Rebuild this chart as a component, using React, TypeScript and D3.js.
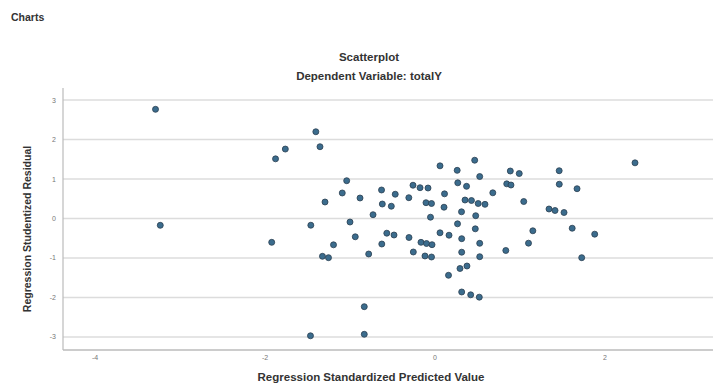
import React from "react";
import * as d3 from "d3";

const W = 713;
const H = 383;

const chartTitle = "Scatterplot";
const chartSubtitle = "Dependent Variable: totalY";
const xLabel = "Regression Standardized Predicted Value";
const yLabel = "Regression Studentized Residual";
const headerText = "Charts";

const xTicks = [-4, -2, 0, 2];
const yTicks = [-3, -2, -1, 0, 1, 2, 3];

// predicted (x) and studentized residual (y)
const predicted = [
  -3.288, -3.232, -1.402, -1.353, -1.761, -1.876, -1.039, -1.091, -1.294, -1.461,
  -1.921, -1.194, -1.324, -1.253, -1.465, -1.0, -0.882, -0.629, -0.62, -0.514,
  -0.468, -0.729, -0.938, -0.78, -0.626, -0.567, -0.482, -0.308, -0.306, -0.259,
  -0.255, -0.176, -0.082, -0.165, -0.1, -0.035, -0.118, -0.041, -0.106, -0.041,
  -0.053, 0.059, 0.112, 0.106, 0.059, 0.165, 0.159, 0.261, 0.268, 0.371,
  0.353, 0.429, 0.312, 0.265, 0.314, 0.314, 0.294, 0.376, 0.314, 0.42,
  0.521, 0.467, 0.526, 0.508, 0.588, 0.479, 0.474, 0.526, 0.526, 0.68,
  0.844, 0.894, 0.886, 0.991, 1.044, 0.833, 1.151, 1.1, 1.461, 1.462,
  1.671, 1.341, 1.412, 1.518, 1.614, 1.879, 1.726, 2.353, -0.832, -0.832,
];
const residual = [
  2.765, -0.172, 2.197, 1.818, 1.759, 1.511, 0.957, 0.646, 0.418, -0.17,
  -0.603, -0.666, -0.957, -0.992, -2.97, -0.089, 0.519, 0.722, 0.367, 0.311,
  0.615, 0.096, -0.463, -0.899, -0.646, -0.372, -0.418, 0.527, -0.481, 0.843,
  -0.848, 0.78, 0.772, -0.603, -0.633, -0.663, -0.949, -0.975, 0.4, 0.38,
  0.033, 1.334, 0.625, 0.286, -0.362, -0.423, -1.438, 1.22, 0.904, 0.815,
  0.468, 0.456, 0.17, -0.134, -0.511, -0.853, -1.266, -1.203, -1.861, -1.932,
  -1.992, 1.476, 1.063, 0.38, 0.359, 0.071, -0.261, -0.628, -0.967, 0.651,
  0.878, 0.848, 1.203, 1.139, 0.43, -0.81, -0.311, -0.625, 1.21, 0.868,
  0.754, 0.241, 0.203, 0.152, -0.246, -0.397, -0.992, 1.41, -2.233, -2.932,
];

const plotLeft = 63;
const plotBottom = 350;
const plotTop = 88;

export default function App() {
  const x = d3.scaleLinear().domain([-4.4, 3.4]).range([61, 724]);
  const y = d3.scaleLinear().domain([-3.33, 3.3]).range([plotBottom, 88.2]);
  const points = predicted.map((p, i) => ({ px: p, py: residual[i] }));
  const font = "'Liberation Sans', Arial, sans-serif";

  return (
    <svg
      width={W}
      height={H}
      style={{ position: "absolute", left: 0, top: 0, background: "#fff" }}
      fontFamily={font}
    >
      <text x={11} y={21} fontSize={10.5} fontWeight="bold" fill="#333">
        {headerText}
      </text>
      <text x={369} y={61} fontSize={11.5} fontWeight="bold" fill="#333" textAnchor="middle">
        {chartTitle}
      </text>
      <text x={369} y={80} fontSize={11.5} fontWeight="bold" fill="#333" textAnchor="middle">
        {chartSubtitle}
      </text>

      {yTicks.map((t) => (
        <g key={"g" + t}>
          <line x1={plotLeft} x2={W} y1={y(t)} y2={y(t)} stroke="#dcdcdc" strokeWidth={1.6} />
          <text x={56} y={y(t) + 2.5} fontSize={7} fill="#777" textAnchor="end">
            {t}
          </text>
        </g>
      ))}

      <line x1={plotLeft} x2={plotLeft} y1={plotTop} y2={plotBottom} stroke="#bbb" strokeWidth={1.2} />
      <line x1={plotLeft} x2={W} y1={plotBottom} y2={plotBottom} stroke="#bbb" strokeWidth={1.5} />

      {xTicks.map((t) => (
        <text key={"x" + t} x={x(t)} y={plotBottom + 10} fontSize={7} fill="#777" textAnchor="middle">
          {t}
        </text>
      ))}

      {points.map((d, i) => (
        <circle
          key={i}
          cx={x(d.px)}
          cy={y(d.py)}
          r={3}
          fill="#3b6c8d"
          stroke="#2b3f50"
          strokeWidth={0.8}
        />
      ))}

      <text x={371} y={381} fontSize={11.5} fontWeight="bold" fill="#333" textAnchor="middle">
        {xLabel}
      </text>
      <text
        transform={`translate(31, 229) rotate(-90)`}
        fontSize={10.5}
        fontWeight="bold"
        fill="#333"
        textAnchor="middle"
      >
        {yLabel}
      </text>
    </svg>
  );
}
